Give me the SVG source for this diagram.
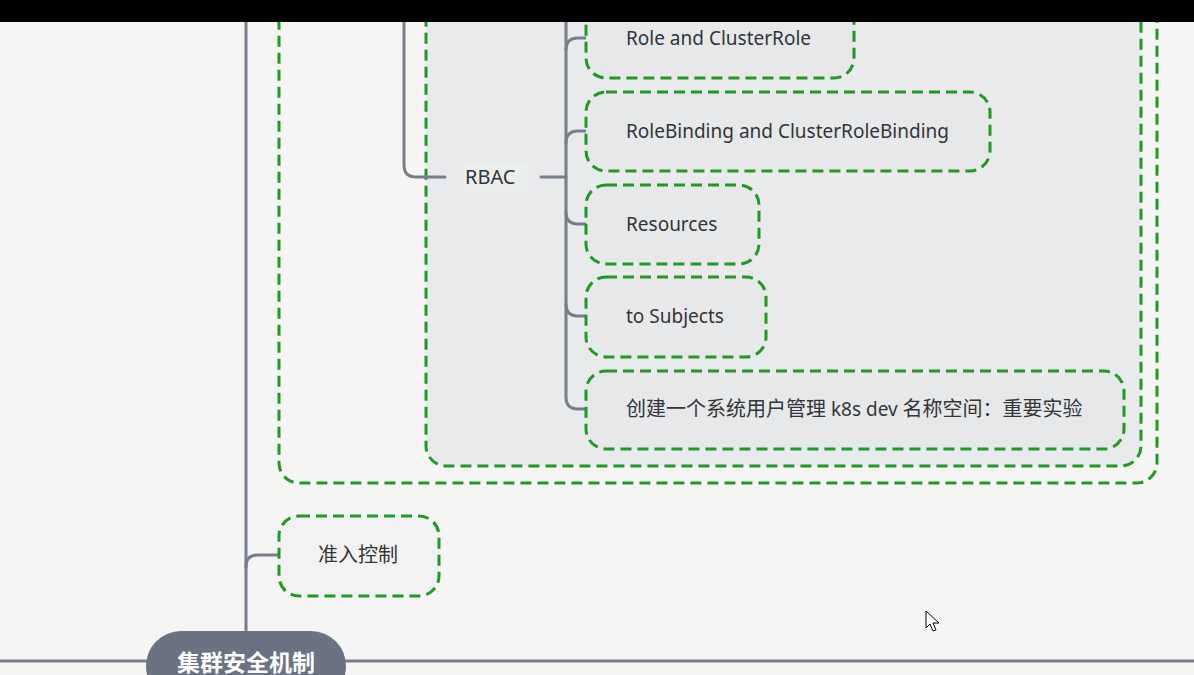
<svg xmlns="http://www.w3.org/2000/svg" width="1194" height="675" viewBox="0 0 1194 675">
<style>
.bg{fill:#f5f5f4}
.dash{fill:none;stroke:#1f9a23;stroke-width:3;stroke-dasharray:11 6}
.node{fill:#e6e8ea;stroke:#1f9a23;stroke-width:3;stroke-dasharray:11 6}
.line{fill:none;stroke:#787e89;stroke-width:3;stroke-linecap:round}
.t{font-family:"Noto Sans","Noto Sans CJK SC",sans-serif;font-size:19px;fill:#333538}
.c{font-size:20px}
</style>
<rect class="bg" x="0" y="0" width="1194" height="675"/>
<g id="container-outer">
<rect class="dash" x="279" y="-40" width="878" height="523" rx="20"/>
</g>
<g id="container-inner">
<rect x="426" y="-40" width="715" height="506" rx="20" fill="#e9eaeb"/>
<rect class="dash" x="426" y="-40" width="715" height="506" rx="20"/>
</g>
<g id="connectors">
<path class="line" d="M246 22 V631"/>
<path class="line" d="M0 661 H146 M346 661 H1194"/>
<path class="line" d="M404 22 V165 Q404 177 416 177 H445"/>
<path class="line" d="M541 177 H566"/>
<path class="line" d="M566 22 V397 Q566 409 578 409 H605"/>
<path class="line" d="M566 50 Q566 38 578 38 H605"/>
<path class="line" d="M566 143 Q566 131 578 131 H605"/>
<path class="line" d="M566 212 Q566 224 578 224 H605"/>
<path class="line" d="M566 304 Q566 316 578 316 H605"/>
<path class="line" d="M246 567 Q246 555 258 555 H298"/>
</g>
<g id="node-rbac">
<rect x="463" y="163" width="64" height="29" fill="#eceded"/>
<text class="t c" x="465" y="184">RBAC</text>
</g>
<g id="node-role">
<rect class="node" x="586" y="-2" width="268" height="80" rx="20"/>
<text class="t" x="626" y="45">Role and ClusterRole</text>
</g>
<g id="node-rolebinding">
<rect class="node" x="586" y="92" width="404" height="79" rx="20"/>
<text class="t" x="626" y="138">RoleBinding and ClusterRoleBinding</text>
</g>
<g id="node-resources">
<rect class="node" x="586" y="185" width="173" height="79" rx="20"/>
<text class="t" x="626" y="231">Resources</text>
</g>
<g id="node-subjects">
<rect class="node" x="586" y="277" width="180" height="80" rx="20"/>
<text class="t" x="626" y="323">to Subjects</text>
</g>
<g id="node-lab">
<rect class="node" x="586" y="371" width="538" height="78" rx="20"/>
<text class="t" x="626" y="416"><tspan class="c">创建一个系统用户管理</tspan> k8s dev <tspan class="c">名称空间：重要实验</tspan></text>
</g>
<g id="node-admission">
<rect class="node" x="279" y="516" width="160" height="80" rx="20" style="fill:#f2f2f2"/>
<text class="t c" x="318" y="562">准入控制</text>
</g>
<g id="node-root">
<rect x="146" y="631" width="200" height="70" rx="35" fill="#6b7382"/>
<text x="246" y="671" text-anchor="middle" font-family="'Noto Sans CJK SC','Noto Sans',sans-serif" font-size="23" font-weight="bold" fill="#ffffff">集群安全机制</text>
</g>
<rect x="0" y="0" width="1194" height="22" fill="#000000"/>
<path d="M926 611 L926 628 L930 624 L933 631 L936 630 L933 623 L939 623 Z" fill="#ffffff" stroke="#000000" stroke-width="1"/>
</svg>
